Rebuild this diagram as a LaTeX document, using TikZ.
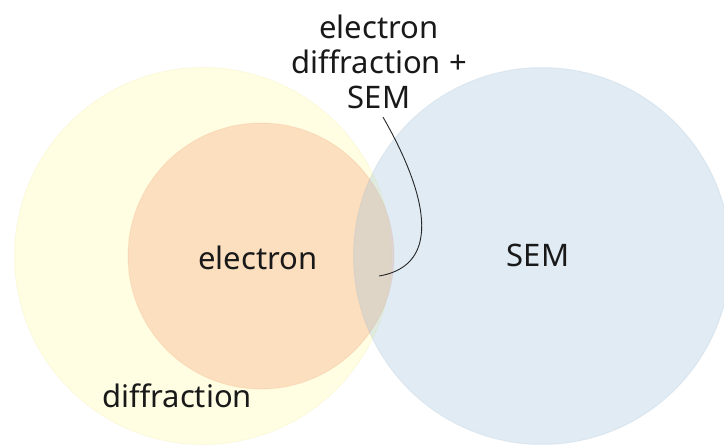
\documentclass[tikz,border=0pt]{standalone}
\usepackage{fontspec}
\setmainfont{Noto Sans}
\begin{document}
\begin{tikzpicture}[x=1pt,y=-1pt,
  venn/.style={circle,inner sep=0pt,fill opacity=0.3,draw opacity=0.12,line width=1pt},
  lab/.style={font=\fontsize{31}{35}\selectfont,text=black!90,inner sep=2pt},
  connector/.style={draw=black!85,line width=0.9pt}]
\useasboundingbox (0,0) rectangle (724,445);
\fill[white] (0,0) rectangle (724,445);
\node[venn,minimum size=377pt,fill={rgb,255:red,255;green,252;blue,160},draw={rgb,255:red,230;green,220;blue,110}] (diff) at (203,256) {};
\node[venn,minimum size=266pt,fill={rgb,255:red,245;green,154;blue,113},draw={rgb,255:red,230;green,130;blue,80}] (elec) at (261,256) {};
\node[venn,minimum size=377pt,fill={rgb,255:red,155;green,192;blue,218},draw={rgb,255:red,120;green,160;blue,200}] (sem) at (542,256) {};
\node[lab] (telec) at (258,258) {electron};
\node[lab] (tsem) at (538,255) {SEM};
\node[lab] (tdiff) at (177,396) {diffraction};
\node[lab,align=center] (tboth) at (379,62) {electron\\diffraction +\\SEM};
\coordinate (tip) at (379,276);
\draw[connector] ([xshift=4pt,yshift=-6pt]tboth.south) .. controls (425,190) and (445,265) .. (tip);
\end{tikzpicture}
\end{document}
